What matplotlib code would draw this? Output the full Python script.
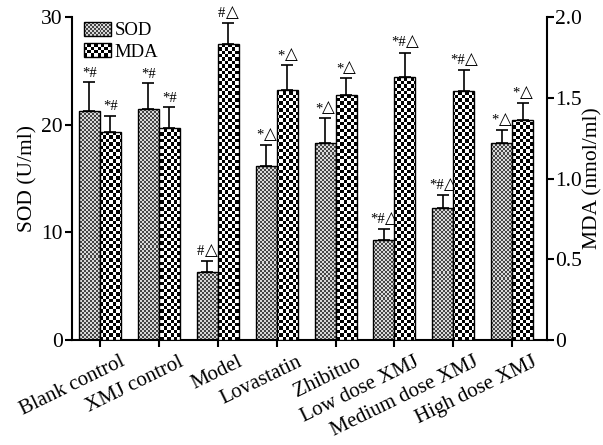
import numpy as np
import matplotlib
matplotlib.use("Agg")
import matplotlib.pyplot as plt
from matplotlib.patches import Rectangle
from matplotlib.legend_handler import HandlerBase
from matplotlib.colors import ListedColormap
from matplotlib.transforms import ScaledTranslation
from matplotlib.offsetbox import TextArea, HPacker, AnnotationBbox

categories = ["Blank control", "XMJ control", "Model", "Lovastatin", "Zhibituo",
              "Low dose XMJ", "Medium dose XMJ", "High dose XMJ"]
sod_values = [21.3, 21.5, 6.3, 16.2, 18.3, 9.3, 12.3, 18.3]
sod_errors = [2.7, 2.4, 1.0, 1.9, 2.3, 1.0, 1.2, 1.2]
mda_values = [1.29, 1.31, 1.83, 1.55, 1.52, 1.63, 1.54, 1.36]
mda_errors = [0.10, 0.13, 0.13, 0.15, 0.10, 0.15, 0.13, 0.11]
sod_marks = ["*#", "*#", "#\u25b3", "*\u25b3", "*\u25b3", "*#\u25b3", "*#\u25b3", "*\u25b3"]
mda_marks = ["*#", "*#", "#\u25b3", "*\u25b3", "*\u25b3", "*#\u25b3", "*#\u25b3", "*\u25b3"]
sod_ticks = [0, 10, 20, 30]
mda_ticks = [0, 0.5, 1.0, 1.5, 2.0]
mda_ticklabels = ["0", "0.5", "1.0", "1.5", "2.0"]

FONT = ["Liberation Serif", "DejaVu Serif"]
plt.rcParams["font.family"] = FONT

W, H, DPI = 603, 445, 100
FS = 15.5
fig = plt.figure(figsize=(W / DPI, H / DPI), dpi=DPI)
L, R, B, T = 72 / W, 547 / W, 1 - 340 / H, 1 - 17 / H
ax = fig.add_axes([L, B, R - L, T - B])
ax2 = ax.twinx()

x = np.arange(len(categories))
w = 0.356
xlim = (-0.475, len(categories) - 1 + 0.59)
ax.set_xlim(xlim)
ax.set_ylim(0, 30)
ax2.set_ylim(0, 2.0)

ax_wpx = (R - L) * W
ax_hpx = (T - B) * H

SOD_C = ("#454545", "#d8d8d8")
MDA_C = ("#000000", "#ffffff")


def checker_img(cell):
    nx = int(round(ax_wpx / cell))
    ny = int(round(ax_hpx / cell))
    ii, jj = np.meshgrid(np.arange(nx), np.arange(ny))
    return (ii + jj) % 2


def fill_bars(axis, bars, cell, colors, ymax):
    img = checker_img(cell)
    cmap = ListedColormap(list(colors))
    for b in bars:
        im = axis.imshow(img, extent=(xlim[0], xlim[1], 0, ymax), aspect="auto",
                         interpolation="nearest", cmap=cmap, vmin=0, vmax=1, zorder=1.5)
        im.set_clip_path(b)


sod_bars = ax.bar(x - w / 2, sod_values, w, facecolor="none", edgecolor="black",
                  linewidth=1.0, zorder=3)
fill_bars(ax, sod_bars, 2.0, SOD_C, 30)
ax.errorbar(x - w / 2, sod_values, yerr=[np.zeros(len(x)), sod_errors], fmt="none",
            ecolor="black", elinewidth=1.2, capsize=4, capthick=1.2, zorder=2)

mda_bars = ax2.bar(x + w / 2, mda_values, w, facecolor="none", edgecolor="black",
                   linewidth=1.0, zorder=3)
fill_bars(ax2, mda_bars, 3.4, MDA_C, 2.0)
ax2.errorbar(x + w / 2, mda_values, yerr=[np.zeros(len(x)), mda_errors], fmt="none",
             ecolor="black", elinewidth=1.2, capsize=4, capthick=1.2, zorder=2)

ax.set_xlim(xlim)
ax.set_ylim(0, 30)
ax2.set_xlim(xlim)
ax2.set_ylim(0, 2.0)


def add_mark(axis, xv, yv, mark):
    parts = []
    sym = mark.replace("\u25b3", "")
    if sym:
        parts.append(TextArea(sym, textprops=dict(fontsize=10.5, family=["Liberation Serif"])))
    if "\u25b3" in mark:
        parts.append(TextArea("\u25b3", textprops=dict(fontsize=12, family=["DejaVu Sans"])))
    box = HPacker(children=parts, align="baseline", pad=0, sep=0)
    ab = AnnotationBbox(box, (xv, yv), xybox=(0, 1.5), xycoords="data",
                        boxcoords="offset points", box_alignment=(0.5, 0.0),
                        frameon=False, pad=0, annotation_clip=False)
    axis.add_artist(ab)


for xi, v, e, m in zip(x - w / 2, sod_values, sod_errors, sod_marks):
    add_mark(ax, xi, v + e, m)
for xi, v, e, m in zip(x + w / 2, mda_values, mda_errors, mda_marks):
    add_mark(ax2, xi, v + e, m)

# axes styling
for a in (ax, ax2):
    a.spines["top"].set_visible(False)
    for s in ("left", "right", "bottom"):
        a.spines[s].set_linewidth(1.5)
ax.spines["right"].set_visible(False)
ax2.spines["left"].set_visible(False)
ax2.spines["bottom"].set_visible(False)

ax.set_xticks(x)
ax.set_xticklabels(categories, rotation=26, ha="right", va="top", fontsize=15)
ax.set_yticks(sod_ticks)
ax.set_yticklabels([str(t) for t in sod_ticks], fontsize=FS)
ax2.set_yticks(mda_ticks)
ax2.set_yticklabels(mda_ticklabels, fontsize=FS)
ax.tick_params(axis="y", direction="out", length=5, width=1.5, pad=1.5)
ax.tick_params(axis="x", direction="out", length=5, width=1.5, pad=4)
ax2.tick_params(axis="y", direction="out", length=5, width=1.5, pad=1)
shift = ScaledTranslation(28 / DPI, 0, fig.dpi_scale_trans)
for lab in ax.get_xticklabels():
    lab.set_transform(lab.get_transform() + shift)

ax.set_ylabel("SOD (U/ml)", fontsize=FS, labelpad=3)
ax2.set_ylabel("MDA (nmol/ml)", fontsize=FS, labelpad=1)


class CheckerHandler(HandlerBase):
    def __init__(self, cell_px, colors):
        super().__init__()
        self.cell = cell_px * 72.0 / DPI
        self.colors = colors

    def create_artists(self, legend, orig_handle, xdescent, ydescent, width, height,
                       fontsize, trans):
        arts = []
        nx = max(1, int(round(width / self.cell)))
        ny = max(1, int(round(height / self.cell)))
        cw, ch = width / nx, height / ny
        for i in range(nx):
            for j in range(ny):
                c = self.colors[(i + j) % 2]
                arts.append(Rectangle((-xdescent + i * cw, -ydescent + j * ch), cw, ch,
                                      facecolor=c, edgecolor="none", transform=trans))
        arts.append(Rectangle((-xdescent, -ydescent), width, height, fill=False,
                              edgecolor="black", linewidth=1.0, transform=trans))
        return arts


h_sod = Rectangle((0, 0), 1, 1)
h_mda = Rectangle((0, 0), 1, 1)
leg = ax2.legend([h_sod, h_mda], ["SOD", "MDA"],
                 handler_map={h_sod: CheckerHandler(2.0, SOD_C), h_mda: CheckerHandler(3.4, MDA_C)},
                 loc="upper left", bbox_to_anchor=((84 - 72) / ax_wpx, 1 - (22 - 17) / ax_hpx),
                 frameon=False, fontsize=13.5, handlelength=1.45, handleheight=0.75,
                 handletextpad=0.2, labelspacing=0.2, borderpad=0, borderaxespad=0)

fig.savefig("out.png", dpi=DPI)
